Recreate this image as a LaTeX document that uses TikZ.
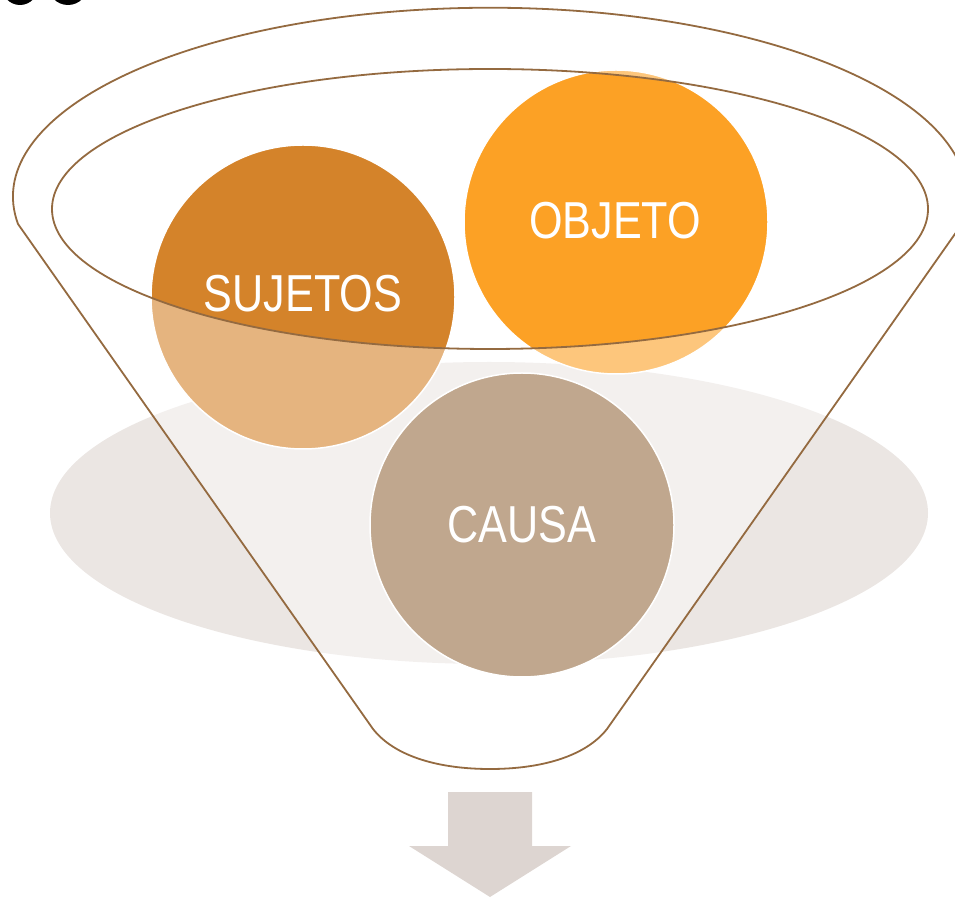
\documentclass[tikz,border=0pt]{standalone}
\usepackage{fontspec}
\setmainfont{Liberation Sans}[FakeStretch=0.83]
\definecolor{funnelline}{HTML}{946A40}
\definecolor{graybg}{HTML}{EBE6E3}
\definecolor{sujcol}{HTML}{D4832A}
\definecolor{objcol}{HTML}{FCA125}
\definecolor{caucol}{HTML}{C0A78E}
\definecolor{arrowcol}{HTML}{DDD5D1}
\tikzset{
  disc/.style={circle, minimum size=304pt, inner sep=0pt, draw=white, line width=1.5pt},
  lbl/.style={text=white, font=\fontsize{52}{52}\selectfont, inner sep=0pt, anchor=base},
  outline/.style={draw=funnelline, line width=1.8pt}
}
\begin{document}
\begin{tikzpicture}[x=1pt,y=1pt]
\useasboundingbox (0,0) rectangle (955,897);
\clip (0,0) rectangle (955,897);
% black fragments at top-left
\fill[black] (20,910) circle[radius=18];
\fill[black] (68,912) circle[radius=20];
% background ellipse
\fill[graybg] (489,384) ellipse [x radius=439, y radius=151];
% upper circles
\node[disc, fill=sujcol] (sujetos) at (303,600) {};
\node[disc, fill=objcol] (objeto) at (616,675) {};
% funnel translucent body
\path[fill=white, fill opacity=0.4, even odd rule]
  (18,673) arc[start angle=188.3, end angle=-8.3, x radius=477, y radius=189]
  -- (607,168) .. controls (585,140) and (540,128) .. (490,128)
  .. controls (440,128) and (395,140) .. (373,168) -- cycle
  (490,688) ellipse [x radius=438, y radius=140];
% lower circle
\node[disc, fill=caucol] (causa) at (522,372) {};
% funnel outlines
\draw[outline]
  (18,673) arc[start angle=188.3, end angle=-8.3, x radius=477, y radius=189]
  -- (607,168) .. controls (585,140) and (540,128) .. (490,128)
  .. controls (440,128) and (395,140) .. (373,168) -- cycle;
\draw[outline] (490,688) ellipse [x radius=438, y radius=140];
% arrow
\fill[arrowcol] (448,105) -- (532,105) -- (532,51) -- (571,51) -- (490,0) -- (409,51) -- (448,51) -- cycle;
% labels
\node[lbl] (tsuj) at (303,585) {SUJETOS};
\node[lbl] (tobj) at (615,658) {OBJETO};
\node[lbl] (tcau) at (522,354) {CAUSA};
\end{tikzpicture}
\end{document}
